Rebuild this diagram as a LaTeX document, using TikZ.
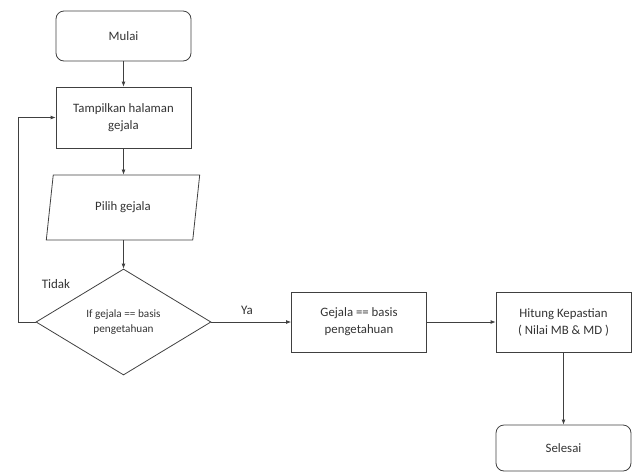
\documentclass[tikz,border=0pt]{standalone}
\usepackage{fontspec}
\setmainfont{Carlito}
\usetikzlibrary{shapes.geometric,arrows.meta}
\begin{document}
\begin{tikzpicture}[x=1pt,y=-1pt,
  line/.style={draw=black!75,line width=0.8pt},
  box/.style={line,rectangle,minimum width=135pt,minimum height=60pt,align=center,inner sep=0pt,font=\fontsize{12.8}{17}\selectfont,text=black!80},
  term/.style={box,rounded corners=8pt,minimum height=50pt},
  io/.style={box,trapezium,trapezium left angle=76,trapezium right angle=104,minimum width=154pt,minimum height=65pt,trapezium stretches=true},
  dec/.style={line,diamond,minimum width=175pt,minimum height=106pt,aspect=1.65,inner sep=0pt,align=center,font=\fontsize{11.2}{15}\selectfont,text=black!80},
  arr/.style={line,-{Latex[length=5pt,width=4pt]}},
  lbl/.style={font=\fontsize{13}{15}\selectfont,text=black!80}]
\useasboundingbox (0,0) rectangle (632,472);
\node[term] (mulai) at (123.5,36) {Mulai};
\node[box,minimum height=61pt] (tampil) at (123.5,117.5) {Tampilkan halaman\\gejala};
\node[io] (pilih) at (123,207.5) {Pilih gejala};
\node[dec] (if) at (123.5,322) {If gejala == basis\\pengetahuan};
\node[box] (gejala) at (359,322) {Gejala == basis\\pengetahuan};
\node[box] (hitung) at (563.5,322) {Hitung Kepastian\\( Nilai MB \& MD )};
\node[term,minimum height=46pt] (selesai) at (563.5,448) {Selesai};
\node[lbl] (tidak) at (56,284) {Tidak};
\node[lbl] (ya) at (247,310) {Ya};
\coordinate (c1) at (18,322);
\coordinate (c2) at (18,117.5);
\draw[arr] (mulai) -- (tampil);
\draw[arr] (tampil) -- (pilih.north -| tampil.south);
\draw[arr] (pilih.south -| if.north) -- (if.north);
\draw[arr] (if.west) -- (c1) -- (c2) -- (tampil.west);
\draw[arr] (if.east) -- (gejala.west);
\draw[arr] (gejala.east) -- (hitung.west);
\draw[arr] (hitung.south) -- (selesai.north);
\end{tikzpicture}
\end{document}
